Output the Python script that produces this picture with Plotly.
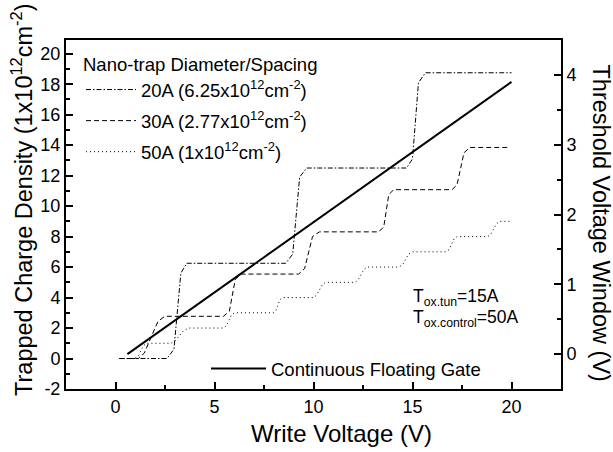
import plotly.graph_objects as go

# Write voltage (V) vs trapped charge density (1x10^12 cm^-2) for each nano-trap size
x_20a = [0.2, 2.6, 2.95, 3.3, 3.6, 8.6, 8.95, 9.3, 9.65, 14.7, 15.0, 15.3, 15.65, 20.0]
y_20a = [0.0, 0.0, 0.6, 5.6, 6.25, 6.25, 6.85, 11.9, 12.5, 12.5, 13.1, 18.1, 18.75, 18.75]

x_30a = [0.2, 1.15, 1.45, 2.15, 2.5, 5.45, 5.75, 6.05, 6.35, 9.25, 9.55, 9.95, 10.3,
         13.3, 13.55, 13.8, 14.05, 17.0, 17.25, 17.6, 17.9, 19.8]
y_30a = [0.0, 0.0, 0.35, 2.45, 2.77, 2.77, 3.1, 5.2, 5.54, 5.54, 5.9, 8.0, 8.31,
         8.31, 8.65, 10.75, 11.08, 11.08, 11.4, 13.5, 13.85, 13.85]

x_50a = [0.2, 0.95, 1.15, 1.4, 1.6, 2.8, 3.0, 3.45, 3.7, 5.45, 5.6, 5.85, 6.0,
         8.0, 8.1, 8.3, 8.45, 10.0, 10.15, 10.45, 10.6, 12.1, 12.25, 12.55, 12.7,
         14.3, 14.5, 14.8, 15.0, 16.7, 16.85, 17.1, 17.25, 18.8, 18.95, 19.25, 19.4, 19.9]
y_50a = [0.0, 0.0, 0.15, 0.85, 1.0, 1.0, 1.15, 1.85, 2.0, 2.0, 2.15, 2.85, 3.0,
         3.0, 3.15, 3.85, 4.0, 4.0, 4.15, 4.85, 5.0, 5.0, 5.15, 5.85, 6.0,
         6.0, 6.15, 6.85, 7.0, 7.0, 7.15, 7.85, 8.0, 8.0, 8.15, 8.85, 9.0, 9.0]

# Continuous floating gate: threshold voltage window (V)
x_cfg = [0.6, 20.0]
vt_cfg = [0.0, 3.9]

names = [
    "20A (6.25x10<sup>12</sup>cm<sup>-2</sup>)",
    "30A (2.77x10<sup>12</sup>cm<sup>-2</sup>)",
    "50A (1x10<sup>12</sup>cm<sup>-2</sup>)",
]

# Tick positions and labels
x_ticks = [0, 5, 10, 15, 20]
y_ticks = [-2, 0, 2, 4, 6, 8, 10, 12, 14, 16, 18, 20]
y_tick_text = ["-2", "0", "2", "4", "6", "8", "10", "12", "14", "16", "18", "20"]
y2_ticks = [0, 1, 2, 3, 4]

FONT = "Liberation Sans, Arial, sans-serif"
PL, PR, PT, PB = 66, 52, 40, 63
W, H = 613, 452
PW, PH = W - PL - PR, H - PT - PB


def px(xp):
    return (xp - PL) / PW


def py(yp):
    return (H - PB - yp) / PH


fig = go.Figure()
styles = ["5px,2px,1.5px,2px", "5px,3px", "1px,3px"]
for i, (xs, ys, nm, ds) in enumerate(zip([x_20a, x_30a, x_50a], [y_20a, y_30a, y_50a], names, styles)):
    fig.add_trace(go.Scatter(
        x=xs, y=ys, mode="lines", name=nm, legend="legend", legendgroup=f"g{i}",
        line=dict(color="black", width=1, dash=ds),
    ))

fig.add_trace(go.Scatter(
    x=x_cfg, y=vt_cfg, mode="lines", name="Continuous Floating Gate",
    yaxis="y2", legend="legend2", line=dict(color="black", width=2),
))

axis_common = dict(
    showline=True, linewidth=2, linecolor="black", showgrid=False, zeroline=False,
    ticks="inside", ticklen=7, tickwidth=1.5, tickcolor="black",
    tickfont=dict(family=FONT, size=18, color="black"),
)
minor_common = dict(ticks="inside", ticklen=4, tickwidth=1.5, tickcolor="black")

fig.update_layout(
    width=W, height=H,
    margin=dict(l=PL, r=PR, t=PT, b=PB),
    paper_bgcolor="white", plot_bgcolor="white",
    font=dict(family=FONT, size=18, color="black"),
    xaxis=dict(range=[-2.5, 22.5], tickmode="array", tickvals=x_ticks, mirror=True,
               minor=dict(tickmode="linear", tick0=0, dtick=2.5, **minor_common),
               **axis_common),
    yaxis=dict(range=[-2, 20.9], tickmode="array", tickvals=y_ticks, ticktext=y_tick_text,
               mirror=True,
               minor=dict(tickmode="linear", tick0=0, dtick=1, **minor_common),
               **axis_common),
    yaxis2=dict(range=[-0.5, 4.5], tickmode="array", tickvals=y2_ticks,
                overlaying="y", side="right",
                minor=dict(tickmode="linear", tick0=0, dtick=0.5, **minor_common),
                **axis_common),
    legend=dict(
        x=px(81), y=py(47), xanchor="left", yanchor="top",
        bgcolor="rgba(0,0,0,0)", borderwidth=0,
        font=dict(family=FONT, size=18.5, color="black"),
        title=dict(text="Nano-trap Diameter/Spacing", font=dict(family=FONT, size=18.5, color="black")),
        itemwidth=50, tracegroupgap=4, traceorder="grouped",
    ),
    legend2=dict(
        x=px(206), y=py(369), xanchor="left", yanchor="middle",
        bgcolor="rgba(0,0,0,0)", borderwidth=0,
        font=dict(family=FONT, size=18.5, color="black"),
        itemwidth=55,
    ),
    annotations=[
        dict(text="Write Voltage (V)", x=px(341.5), y=py(433), xref="paper", yref="paper",
             showarrow=False, xanchor="center", yanchor="middle",
             font=dict(family=FONT, size=24, color="black")),
        dict(text="Trapped Charge Density (1x10<sup>12</sup>cm<sup>-2</sup>)", textangle=-90,
             x=px(22), y=py(200), xref="paper", yref="paper", showarrow=False,
             xanchor="center", yanchor="middle",
             font=dict(family=FONT, size=23.5, color="black")),
        dict(text="Threshold Voltage Window (V)", textangle=90,
             x=px(600), y=py(222.5), xref="paper", yref="paper", showarrow=False,
             xanchor="center", yanchor="middle",
             font=dict(family=FONT, size=23.5, color="black")),
        dict(text="T<sub>ox.tun</sub>=15A", x=px(411), y=py(297), xref="paper", yref="paper",
             showarrow=False, xanchor="left", yanchor="middle",
             font=dict(family=FONT, size=17.5, color="black")),
        dict(text="T<sub>ox.control</sub>=50A", x=px(411), y=py(318), xref="paper", yref="paper",
             showarrow=False, xanchor="left", yanchor="middle",
             font=dict(family=FONT, size=17.5, color="black")),
    ],
)

fig.write_html("out.html")
